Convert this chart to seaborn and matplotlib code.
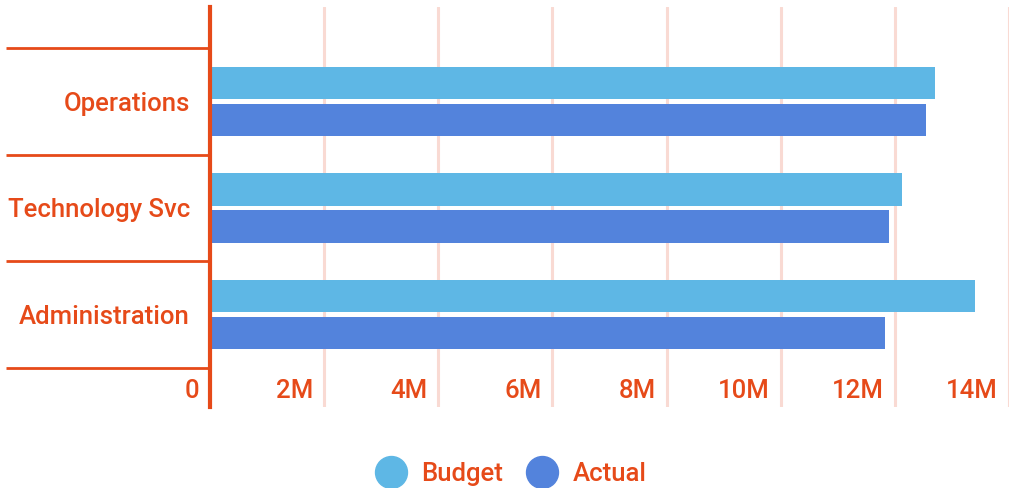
import matplotlib
matplotlib.use("Agg")
import matplotlib.pyplot as plt
from matplotlib.lines import Line2D
from matplotlib.ticker import FixedLocator, NullFormatter
import matplotlib.transforms as mtransforms
import seaborn as sns
import pandas as pd

categories = ["Operations", "Technology Svc", "Administration"]
budget = [12.70e6, 12.13e6, 13.40e6]
actual = [12.55e6, 11.89e6, 11.82e6]
series = ["Budget", "Actual"]
colors = ["#5EB7E5", "#5383DC"]
x_ticks = [0, 2e6, 4e6, 6e6, 8e6, 10e6, 12e6, 14e6]
x_labels = ["0", "2M", "4M", "6M", "8M", "10M", "12M", "14M"]

TEXT = "#E64A19"
GRID = "#F9DAD3"
FS = 18.5

df = pd.DataFrame({
    "category": categories * 2,
    "series": ["Budget"] * 3 + ["Actual"] * 3,
    "value": budget + actual,
})

sns.set_theme(style="white")
plt.rcParams["font.family"] = ["Roboto", "DejaVu Sans"]

fig = plt.figure(figsize=(10.14, 4.88), dpi=100)
ax = fig.add_axes([210 / 1014, 1 - 407 / 488, (1009 - 210) / 1014, 400 / 488])

sns.barplot(data=df, y="category", x="value", hue="series", order=categories,
            hue_order=series, palette=colors, orient="h", width=0.694, gap=0.13,
            saturation=1, linewidth=0, ax=ax, legend=False)

ax.set_xlim(0, 14e6)
ax.set_ylim(2.866, -0.884)
ax.set_xlabel("")
ax.set_ylabel("")

# vertical gridlines
ax.set_xticks(x_ticks)
ax.xaxis.set_major_formatter(NullFormatter())
ax.tick_params(axis="x", length=0)
ax.grid(axis="x", color=GRID, linewidth=2.2)
ax.set_axisbelow(True)
offset = mtransforms.ScaledTranslation(-11 / 100, 15.5 / 100, fig.dpi_scale_trans)
for xv, lab in zip(x_ticks, x_labels):
    ax.text(xv, 0, lab, transform=ax.get_xaxis_transform() + offset, ha="right",
            va="center", color=TEXT, fontsize=FS, fontweight="medium")

# category separators (major ticks) and labels (minor ticks)
n = len(categories)
ax.yaxis.set_major_locator(FixedLocator([i - 0.5 for i in range(n + 1)]))
ax.yaxis.set_major_formatter(NullFormatter())
ax.yaxis.set_minor_locator(FixedLocator(list(range(n))))
ax.set_yticklabels(categories, minor=True)
ax.tick_params(axis="y", which="major", length=204 * 0.72, width=2.0, color=TEXT, left=True)
ax.tick_params(axis="y", which="minor", length=0, pad=20 * 0.72, labelcolor=TEXT, labelsize=FS)
for lab in ax.get_yticklabels(minor=True):
    lab.set_fontweight("medium")

for s in ["top", "right", "bottom"]:
    ax.spines[s].set_visible(False)
ax.spines["left"].set_color(TEXT)
ax.spines["left"].set_linewidth(3.0)
ax.spines["left"].set_zorder(5)

handles = [Line2D([], [], linestyle="none", marker="o", markersize=23,
                  markerfacecolor=c, markeredgecolor=c) for c in colors]
leg = fig.legend(handles, series, loc="center", bbox_to_anchor=(0.505, 1 - 474 / 488),
                 ncol=2, frameon=False, handlelength=1.0, handletextpad=0.7,
                 columnspacing=1.0, prop={"size": FS, "weight": "medium"})
for t in leg.get_texts():
    t.set_color(TEXT)

fig.savefig("out.png", dpi=100)
